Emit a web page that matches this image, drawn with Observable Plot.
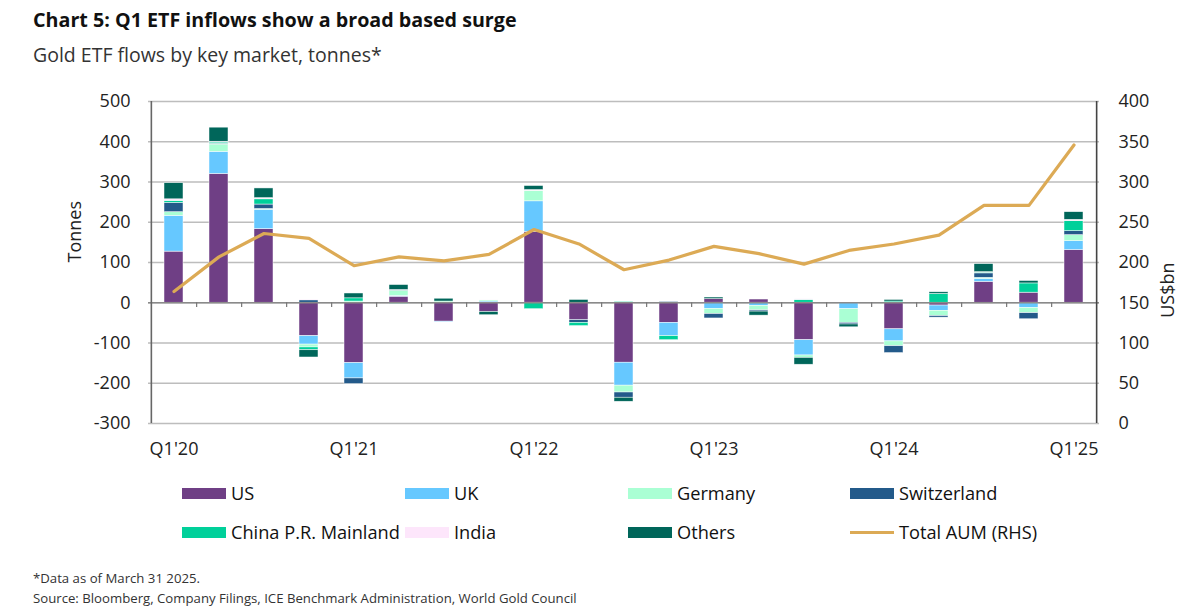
<!DOCTYPE html>
<html>
<head>
<meta charset="utf-8">
<script src="https://cdn.jsdelivr.net/npm/d3@7"></script>
<script src="https://cdn.jsdelivr.net/npm/@observablehq/plot@0.6"></script>
<style>
  body { margin:0; width:1200px; height:608px; position:relative; font-family:"Open Sans", sans-serif; background:#fff; overflow:hidden; }
  .t { position:absolute; left:33px; white-space:nowrap; }
  #title { top:6px; font-size:19.7px; font-weight:bold; color:#111; }
  #subtitle { top:41px; font-size:19.5px; color:#333; }
  #chart { position:absolute; left:0; top:80px; }
  .leg { position:absolute; display:flex; align-items:center; font-size:18.2px; color:#111; white-space:nowrap; }
  .sw { width:44px; height:11px; margin-right:5px; }
  .ln { width:44px; height:3px; margin-right:5px; }
  .foot { position:absolute; left:33px; font-size:13.2px; color:#333; white-space:nowrap; }
</style>
</head>
<body>
<div id="title" class="t">Chart 5: Q1 ETF inflows show a broad based surge</div>
<div id="subtitle" class="t">Gold ETF flows by key market, tonnes*</div>
<div id="chart"></div>
<div id="legend"></div>
<div class="foot" style="top:569px">*Data as of March 31 2025.</div>
<div class="foot" style="top:589px">Source: Bloomberg, Company Filings, ICE Benchmark Administration, World Gold Council</div>
<script>
const quarters = ["Q1'20","Q2'20","Q3'20","Q4'20","Q1'21","Q2'21","Q3'21","Q4'21","Q1'22","Q2'22","Q3'22","Q4'22","Q1'23","Q2'23","Q3'23","Q4'23","Q1'24","Q2'24","Q3'24","Q4'24","Q1'25"];
const markets = ["US","UK","Germany","Switzerland","China P.R. Mainland","India","Others"];
const marketColors = ["#6f3f85","#66c8ff","#aaffd4","#235a8a","#00d09a","#fde6fb","#00665a"];
const us          = [127,320,183,-83,-150,15,-47,-23,176,-43,-149,-50,9,8,-93,0,-66,-7,52,25,131];
const uk          = [89,55,48,-21,-38,2,-2,3,76,0,-57,-33,-15,-8,-38,-16,-30,-13,7,-13,22];
const germany     = [9,18,2,-7,3,13,3,3,26,0,-17,0,-13,-11,-6,-34,-12,-13,3,-13,15];
const switzerland = [23,2,11,6,-14,2,0,0,0,-7,-13,2,-11,-3,0,-4,-17,-4,11,-15,10];
const china       = [5,3,13,-7,8,-3,0,0,-16,-8,2,-10,0,0,7,0,3,22,2,23,25];
const india       = [4,2,3,2,0,0,0,1,2,0,0,0,0,0,2,0,0,0,1,0,3];
const others      = [40,35,24,-18,12,12,7,-8,10,7,-10,0,4,-10,-17,-7,4,4,20,6,19];
const totalAUM    = [164,207,236,230,196,207,202,210,241,223,191,203,220,211,198,215,223,234,271,271,346];
const leftTicks = [-300,-200,-100,0,100,200,300,400,500];
const aumColor = "#dcaa55";

const series = [us, uk, germany, switzerland, china, india, others];
const rows = [];
series.forEach((vals, k) => vals.forEach((v, i) => rows.push({q: quarters[i], m: markets[k], v})));
// right axis 0..400 maps onto left axis -300..500
const toLeft = a => a * 2 - 300;
const toRight = t => (t + 300) / 2;
const aumRows = totalAUM.map((a, i) => ({q: quarters[i], a}));

const W = 1200, ML = 148, MR = 101;
const step = (W - ML - MR) / quarters.length;

const chart = Plot.plot({
  width: W, height: 390,
  marginLeft: ML, marginRight: MR, marginTop: 21, marginBottom: 47,
  style: {fontFamily: "Open Sans", fontSize: "18px", color: "#222", background: "#fff"},
  x: {domain: quarters, paddingInner: 0.58, paddingOuter: 0.29},
  y: {domain: [-300, 500]},
  color: {domain: markets, range: marketColors},
  marks: [
    Plot.ruleY(leftTicks, {stroke: "#bdbdbd", strokeWidth: 1.6}),
    Plot.barY(rows, {x: "q", y: "v", fill: "m", order: markets, stroke: "#fff", strokeWidth: 0.6, strokeOpacity: 0.8}),
    Plot.ruleY([0], {stroke: "#8a8a8a", strokeWidth: 1.6}),
    Plot.ruleX(quarters.slice(0, -1), {x: d => d, y1: 0, y2: -12, dx: step / 2, stroke: "#777", strokeWidth: 1.2}),
    Plot.lineY(aumRows, {x: "q", y: d => toLeft(d.a), stroke: aumColor, strokeWidth: 3.2}),
    Plot.ruleX([quarters[0]], {dx: -step / 2, stroke: "#666", strokeWidth: 1.6}),
    Plot.ruleX([quarters[quarters.length - 1]], {dx: step / 2, stroke: "#444", strokeWidth: 1.6}),
    Plot.axisX({tickSize: 0, tickPadding: 19, tickFormat: d => d.startsWith("Q1") ? d : "", label: null, fontSize: 18}),
    Plot.axisY({anchor: "left", ticks: leftTicks, tickFormat: d => String(d), tickSize: 0, tickPadding: 18, label: null, fontSize: 18}),
    Plot.axisY({anchor: "right", ticks: leftTicks, tickFormat: d => String(toRight(d)), tickSize: 0, tickPadding: 19, label: null, fontSize: 18}),
    Plot.text(["Tonnes"], {frameAnchor: "left", dx: -73, rotate: -90, text: d => d, fontSize: 18, fill: "#222"}),
    Plot.text(["US$bn"], {frameAnchor: "right", dx: 69, rotate: -90, text: d => d, fontSize: 18, fill: "#222"})
  ]
});
document.getElementById("chart").appendChild(chart);

// legend
const legend = document.getElementById("legend");
const colX = [182, 405, 628, 850];
const rowY = [493, 532];
const items = markets.map((m, i) => ({label: m, color: marketColors[i], line: false}));
items.push({label: "Total AUM (RHS)", color: aumColor, line: true});
items.forEach((it, i) => {
  const d = document.createElement("div");
  d.className = "leg";
  d.style.left = colX[i % 4] + "px";
  d.style.top = (rowY[Math.floor(i / 4)] - 12) + "px";
  d.style.height = "24px";
  const s = document.createElement("div");
  s.className = it.line ? "ln" : "sw";
  s.style.background = it.color;
  const t = document.createElement("span");
  t.textContent = it.label;
  d.appendChild(s); d.appendChild(t);
  legend.appendChild(d);
});
</script>
</body>
</html>
